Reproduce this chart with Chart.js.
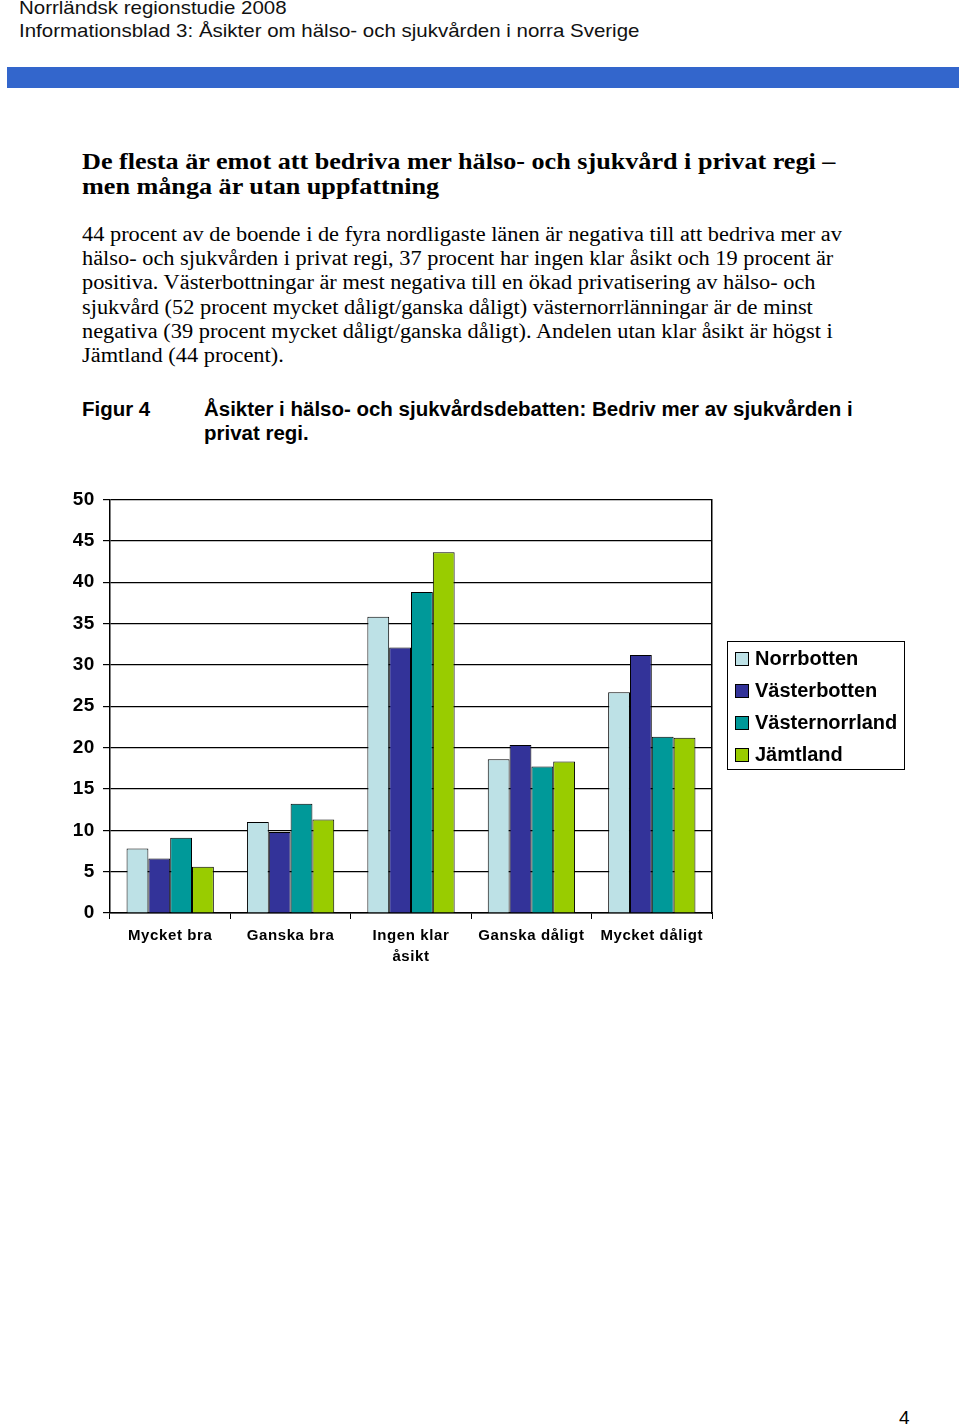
<!DOCTYPE html>
<html>
<head>
<meta charset="utf-8">
<script src="https://cdn.jsdelivr.net/npm/chart.js@4"></script>
<style>
  body { margin: 0; width: 960px; height: 1428px; background: #fff; position: relative; overflow: hidden; }
  .abs { position: absolute; white-space: nowrap; color: #000; transform-origin: 0 0; }
  .hdr { font-family: "Liberation Sans", Arial, sans-serif; font-size: 19px; left: 19px; color: #111; transform: scaleX(1.078); }
  .h1 { font-family: "Liberation Serif", "Times New Roman", serif; font-weight: bold; font-size: 24px; left: 82px; transform: scaleX(1.09); }
  .body { font-family: "Liberation Serif", "Times New Roman", serif; font-size: 20px; left: 82px; transform: scaleX(1.118); }
  .cap { font-family: "Liberation Sans", Arial, sans-serif; font-weight: bold; font-size: 19.5px; transform: scaleX(1.05); }
  #legend { position: absolute; left: 727px; top: 641px; width: 178px; height: 129px; border: 1.5px solid #000; box-sizing: border-box;
            font-family: "Liberation Sans", Arial, sans-serif; font-weight: bold; font-size: 20px; }
  #legend div { position: absolute; left: 7px; white-space: nowrap; }
  #legend span { display: inline-block; width: 12px; height: 12px; border: 1px solid #000; margin-right: 6px; vertical-align: -1px; }
</style>
</head>
<body>
<div class="abs hdr" style="top:-3px">Norrländsk regionstudie 2008</div>
<div class="abs hdr" style="top:20px">Informationsblad 3: Åsikter om hälso- och sjukvården i norra Sverige</div>
<div style="position:absolute;left:7px;top:67px;width:952px;height:21px;background:#3366cc;"></div>

<div class="abs h1" style="top:148px">De flesta är emot att bedriva mer hälso- och sjukvård i privat regi –</div>
<div class="abs h1" style="top:173px">men många är utan uppfattning</div>

<div class="abs body" style="top:223px">44 procent av de boende i de fyra nordligaste länen är negativa till att bedriva mer av</div>
<div class="abs body" style="top:247px">hälso- och sjukvården i privat regi, 37 procent har ingen klar åsikt och 19 procent är</div>
<div class="abs body" style="top:271px">positiva. Västerbottningar är mest negativa till en ökad privatisering av hälso- och</div>
<div class="abs body" style="top:296px">sjukvård (52 procent mycket dåligt/ganska dåligt) västernorrlänningar är de minst</div>
<div class="abs body" style="top:320px">negativa (39 procent mycket dåligt/ganska dåligt). Andelen utan klar åsikt är högst i</div>
<div class="abs body" style="top:344px">Jämtland (44 procent).</div>

<div class="abs cap" style="top:398px;left:82px">Figur 4</div>
<div class="abs cap" style="top:398px;left:204px">Åsikter i hälso- och sjukvårdsdebatten: Bedriv mer av sjukvården i</div>
<div class="abs cap" style="top:422px;left:204px">privat regi.</div>

<div style="position:absolute;left:0;top:480px;width:960px;height:500px;">
  <canvas id="chart1"></canvas>
</div>

<div id="legend"></div>

<div class="abs" style="top:1407px;left:899px;font-family:'Liberation Sans',Arial,sans-serif;font-size:19px;">4</div>

<script>
const categories = ["Mycket bra", "Ganska bra", ["Ingen klar", "åsikt"], "Ganska dåligt", "Mycket dåligt"];
const regions = ["Norrbotten", "Västerbotten", "Västernorrland", "Jämtland"];
const norrbotten = [7.8, 11.0, 35.8, 18.6, 26.7];
const vasterbotten = [6.6, 9.8, 32.1, 20.3, 31.2];
const vasternorrland = [9.1, 13.2, 38.8, 17.7, 21.3];
const jamtland = [5.6, 11.3, 43.6, 18.3, 21.2];
const yTicks = [0, 5, 10, 15, 20, 25, 30, 35, 40, 45, 50];

const colors = ["#bde1e6", "#333399", "#009999", "#99cc00"];
const series = [norrbotten, vasterbotten, vasternorrland, jamtland];

// legend as html box
const legend = document.getElementById("legend");
regions.forEach(function(name, i) {
  const d = document.createElement("div");
  d.style.top = (5 + i * 32) + "px";
  d.innerHTML = '<span style="background:' + colors[i] + '"></span>' + name;
  legend.appendChild(d);
});

// the axis labels in the original are slightly letter-spaced
const spacing = {
  id: "spacing",
  beforeDraw: function(chart) { chart.ctx.letterSpacing = "0.6px"; }
};

const ctx = document.getElementById("chart1").getContext("2d");
new Chart(ctx, {
  type: "bar",
  data: {
    labels: categories,
    datasets: series.map(function(vals, i) {
      return {
        label: regions[i],
        data: vals,
        backgroundColor: colors[i],
        borderColor: "#000",
        borderWidth: 1,
        barPercentage: 1,
        categoryPercentage: 0.725
      };
    })
  },
  plugins: [spacing],
  options: {
    responsive: true,
    maintainAspectRatio: false,
    animation: false,
    layout: { padding: { left: 0, right: 248, top: 17, bottom: 0 } },
    plugins: { legend: { display: false }, tooltip: { enabled: false } },
    scales: {
      x: {
        grid: { drawOnChartArea: false, color: "#000", tickLength: 6, offset: true },
        border: { color: "#000", width: 1.5 },
        ticks: {
          color: "#000",
          padding: 6,
          maxRotation: 0,
          autoSkip: false,
          font: { family: "Liberation Sans, Arial, sans-serif", size: 15, weight: "bold", lineHeight: 1.4 }
        },
        afterFit: function(s) { s.height = 67; }
      },
      y: {
        min: 0,
        max: 50,
        afterBuildTicks: function(s) { s.ticks = yTicks.map(function(v) { return { value: v }; }); },
        grid: { color: "#000", lineWidth: 1.2, tickLength: 7 },
        border: { color: "#000", width: 1.5 },
        ticks: {
          color: "#000",
          padding: 8,
          font: { family: "Liberation Sans, Arial, sans-serif", size: 19, weight: "bold" }
        },
        afterFit: function(s) { s.width = 110; }
      },
      y2: {
        position: "right",
        min: 0,
        max: 50,
        grid: { drawOnChartArea: false, tickLength: 0 },
        border: { color: "#000", width: 1.5 },
        ticks: { display: false },
        afterFit: function(s) { s.width = 0; }
      }
    }
  }
});
</script>
</body>
</html>
